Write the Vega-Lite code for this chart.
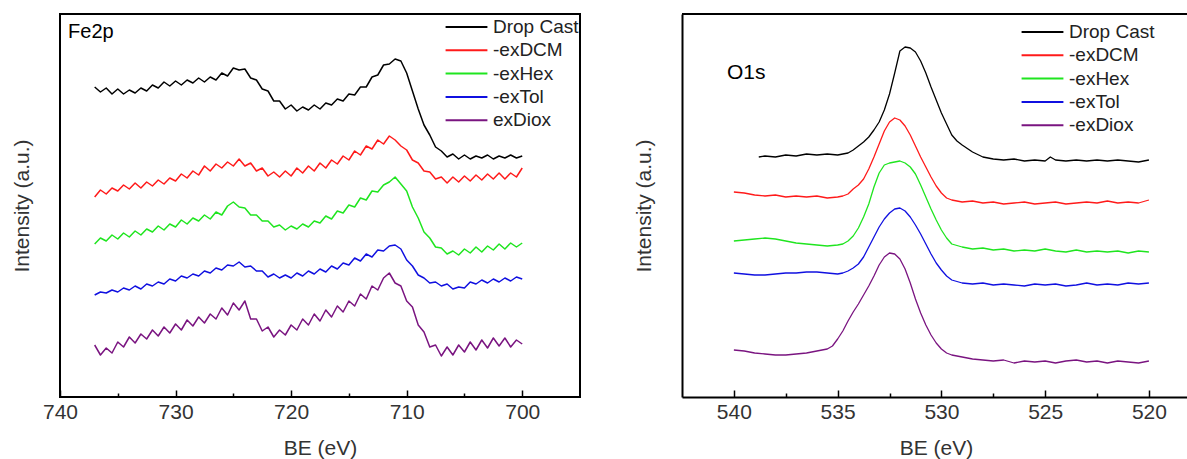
{
"$schema": "https://vega.github.io/schema/vega-lite/v6.json",
"background": "white",
"padding": {"left": 10, "top": 13, "right": 0, "bottom": 0},
"config": {
 "font": "Liberation Sans",
 "view": {"stroke": "black", "strokeWidth": 2},
 "axis": {"labelFont": "Liberation Sans", "titleFont": "Liberation Sans", "labelFontSize": 21, "titleFontSize": 21, "titleFontWeight": "normal", "labelColor": "#333", "titleColor": "#333", "grid": false},
 "legend": {"orient": "none", "title": null, "symbolType": "M-5,0H5", "symbolSize": 70, "symbolStrokeWidth": 2, "labelFontSize": 19, "labelFont": "Liberation Sans", "labelColor": "#222", "labelOffset": 17, "rowPadding": 3.3, "padding": 0, "labelLimit": 300}
},
"spacing": 52,
"resolve": {"scale": {"color": "independent", "x": "independent", "y": "independent"}, "legend": {"color": "independent"}},
"datasets": {
"fe": [
{"s":"Drop Cast","e":737,"i":310},{"s":"Drop Cast","e":736.5,"i":305},{"s":"Drop Cast","e":736,"i":309},{"s":"Drop Cast","e":735.5,"i":303},{"s":"Drop Cast","e":735,"i":308},{"s":"Drop Cast","e":734.5,"i":303},{"s":"Drop Cast","e":734,"i":307},{"s":"Drop Cast","e":733.5,"i":304},{"s":"Drop Cast","e":733,"i":309},{"s":"Drop Cast","e":732.5,"i":306},{"s":"Drop Cast","e":732,"i":312},{"s":"Drop Cast","e":731.5,"i":309},{"s":"Drop Cast","e":731,"i":315},{"s":"Drop Cast","e":730.5,"i":311},{"s":"Drop Cast","e":730,"i":316},{"s":"Drop Cast","e":729.5,"i":312},{"s":"Drop Cast","e":729,"i":317},{"s":"Drop Cast","e":728.5,"i":314},{"s":"Drop Cast","e":728,"i":319},{"s":"Drop Cast","e":727.5,"i":315},{"s":"Drop Cast","e":727,"i":320},{"s":"Drop Cast","e":726.5,"i":317},{"s":"Drop Cast","e":726,"i":324},{"s":"Drop Cast","e":725.5,"i":321},{"s":"Drop Cast","e":725,"i":329},{"s":"Drop Cast","e":724.5,"i":327},{"s":"Drop Cast","e":724,"i":328},{"s":"Drop Cast","e":723.5,"i":319},{"s":"Drop Cast","e":723,"i":317},{"s":"Drop Cast","e":722.5,"i":308},{"s":"Drop Cast","e":722,"i":306},{"s":"Drop Cast","e":721.5,"i":296},{"s":"Drop Cast","e":721,"i":296},{"s":"Drop Cast","e":720.5,"i":288},{"s":"Drop Cast","e":720,"i":292},{"s":"Drop Cast","e":719.5,"i":286},{"s":"Drop Cast","e":719,"i":290},{"s":"Drop Cast","e":718.5,"i":287},{"s":"Drop Cast","e":718,"i":292},{"s":"Drop Cast","e":717.5,"i":288},{"s":"Drop Cast","e":717,"i":294},{"s":"Drop Cast","e":716.5,"i":292},{"s":"Drop Cast","e":716,"i":298},{"s":"Drop Cast","e":715.5,"i":296},{"s":"Drop Cast","e":715,"i":303},{"s":"Drop Cast","e":714.5,"i":302},{"s":"Drop Cast","e":714,"i":310},{"s":"Drop Cast","e":713.5,"i":310},{"s":"Drop Cast","e":713,"i":320},{"s":"Drop Cast","e":712.5,"i":322},{"s":"Drop Cast","e":712,"i":332},{"s":"Drop Cast","e":711.5,"i":333},{"s":"Drop Cast","e":711,"i":338},{"s":"Drop Cast","e":710.5,"i":336},{"s":"Drop Cast","e":710,"i":324},{"s":"Drop Cast","e":709.5,"i":306},{"s":"Drop Cast","e":709,"i":288},{"s":"Drop Cast","e":708.5,"i":272},{"s":"Drop Cast","e":708,"i":262},{"s":"Drop Cast","e":707.5,"i":250},{"s":"Drop Cast","e":707,"i":246},{"s":"Drop Cast","e":706.5,"i":240},{"s":"Drop Cast","e":706,"i":243},{"s":"Drop Cast","e":705.5,"i":238},{"s":"Drop Cast","e":705,"i":242},{"s":"Drop Cast","e":704.5,"i":238},{"s":"Drop Cast","e":704,"i":241},{"s":"Drop Cast","e":703.5,"i":239},{"s":"Drop Cast","e":703,"i":242},{"s":"Drop Cast","e":702.5,"i":238},{"s":"Drop Cast","e":702,"i":241},{"s":"Drop Cast","e":701.5,"i":239},{"s":"Drop Cast","e":701,"i":242},{"s":"Drop Cast","e":700.5,"i":239},{"s":"Drop Cast","e":700,"i":241},
{"s":"-exDCM","e":737,"i":200},{"s":"-exDCM","e":736.5,"i":207},{"s":"-exDCM","e":736,"i":203},{"s":"-exDCM","e":735.5,"i":209},{"s":"-exDCM","e":735,"i":206},{"s":"-exDCM","e":734.5,"i":212},{"s":"-exDCM","e":734,"i":208},{"s":"-exDCM","e":733.5,"i":214},{"s":"-exDCM","e":733,"i":209},{"s":"-exDCM","e":732.5,"i":215},{"s":"-exDCM","e":732,"i":211},{"s":"-exDCM","e":731.5,"i":217},{"s":"-exDCM","e":731,"i":213},{"s":"-exDCM","e":730.5,"i":219},{"s":"-exDCM","e":730,"i":216},{"s":"-exDCM","e":729.5,"i":223},{"s":"-exDCM","e":729,"i":219},{"s":"-exDCM","e":728.5,"i":226},{"s":"-exDCM","e":728,"i":222},{"s":"-exDCM","e":727.5,"i":231},{"s":"-exDCM","e":727,"i":226},{"s":"-exDCM","e":726.5,"i":233},{"s":"-exDCM","e":726,"i":229},{"s":"-exDCM","e":725.5,"i":235},{"s":"-exDCM","e":725,"i":231},{"s":"-exDCM","e":724.5,"i":238},{"s":"-exDCM","e":724,"i":231},{"s":"-exDCM","e":723.5,"i":234},{"s":"-exDCM","e":723,"i":226},{"s":"-exDCM","e":722.5,"i":229},{"s":"-exDCM","e":722,"i":221},{"s":"-exDCM","e":721.5,"i":225},{"s":"-exDCM","e":721,"i":220},{"s":"-exDCM","e":720.5,"i":226},{"s":"-exDCM","e":720,"i":221},{"s":"-exDCM","e":719.5,"i":229},{"s":"-exDCM","e":719,"i":224},{"s":"-exDCM","e":718.5,"i":231},{"s":"-exDCM","e":718,"i":226},{"s":"-exDCM","e":717.5,"i":234},{"s":"-exDCM","e":717,"i":229},{"s":"-exDCM","e":716.5,"i":237},{"s":"-exDCM","e":716,"i":233},{"s":"-exDCM","e":715.5,"i":241},{"s":"-exDCM","e":715,"i":237},{"s":"-exDCM","e":714.5,"i":246},{"s":"-exDCM","e":714,"i":242},{"s":"-exDCM","e":713.5,"i":251},{"s":"-exDCM","e":713,"i":248},{"s":"-exDCM","e":712.5,"i":257},{"s":"-exDCM","e":712,"i":253},{"s":"-exDCM","e":711.5,"i":261},{"s":"-exDCM","e":711,"i":257},{"s":"-exDCM","e":710.5,"i":251},{"s":"-exDCM","e":710,"i":247},{"s":"-exDCM","e":709.5,"i":237},{"s":"-exDCM","e":709,"i":234},{"s":"-exDCM","e":708.5,"i":226},{"s":"-exDCM","e":708,"i":225},{"s":"-exDCM","e":707.5,"i":218},{"s":"-exDCM","e":707,"i":220},{"s":"-exDCM","e":706.5,"i":214},{"s":"-exDCM","e":706,"i":220},{"s":"-exDCM","e":705.5,"i":215},{"s":"-exDCM","e":705,"i":221},{"s":"-exDCM","e":704.5,"i":216},{"s":"-exDCM","e":704,"i":222},{"s":"-exDCM","e":703.5,"i":217},{"s":"-exDCM","e":703,"i":223},{"s":"-exDCM","e":702.5,"i":218},{"s":"-exDCM","e":702,"i":224},{"s":"-exDCM","e":701.5,"i":218},{"s":"-exDCM","e":701,"i":224},{"s":"-exDCM","e":700.5,"i":220},{"s":"-exDCM","e":700,"i":229},
{"s":"-exHex","e":737,"i":153},{"s":"-exHex","e":736.5,"i":159},{"s":"-exHex","e":736,"i":156},{"s":"-exHex","e":735.5,"i":162},{"s":"-exHex","e":735,"i":158},{"s":"-exHex","e":734.5,"i":164},{"s":"-exHex","e":734,"i":160},{"s":"-exHex","e":733.5,"i":166},{"s":"-exHex","e":733,"i":162},{"s":"-exHex","e":732.5,"i":168},{"s":"-exHex","e":732,"i":165},{"s":"-exHex","e":731.5,"i":171},{"s":"-exHex","e":731,"i":167},{"s":"-exHex","e":730.5,"i":173},{"s":"-exHex","e":730,"i":170},{"s":"-exHex","e":729.5,"i":177},{"s":"-exHex","e":729,"i":173},{"s":"-exHex","e":728.5,"i":179},{"s":"-exHex","e":728,"i":176},{"s":"-exHex","e":727.5,"i":182},{"s":"-exHex","e":727,"i":178},{"s":"-exHex","e":726.5,"i":185},{"s":"-exHex","e":726,"i":182},{"s":"-exHex","e":725.5,"i":191},{"s":"-exHex","e":725,"i":195},{"s":"-exHex","e":724.5,"i":190},{"s":"-exHex","e":724,"i":189},{"s":"-exHex","e":723.5,"i":182},{"s":"-exHex","e":723,"i":182},{"s":"-exHex","e":722.5,"i":176},{"s":"-exHex","e":722,"i":176},{"s":"-exHex","e":721.5,"i":170},{"s":"-exHex","e":721,"i":172},{"s":"-exHex","e":720.5,"i":167},{"s":"-exHex","e":720,"i":171},{"s":"-exHex","e":719.5,"i":168},{"s":"-exHex","e":719,"i":173},{"s":"-exHex","e":718.5,"i":170},{"s":"-exHex","e":718,"i":176},{"s":"-exHex","e":717.5,"i":174},{"s":"-exHex","e":717,"i":181},{"s":"-exHex","e":716.5,"i":178},{"s":"-exHex","e":716,"i":186},{"s":"-exHex","e":715.5,"i":184},{"s":"-exHex","e":715,"i":192},{"s":"-exHex","e":714.5,"i":190},{"s":"-exHex","e":714,"i":199},{"s":"-exHex","e":713.5,"i":197},{"s":"-exHex","e":713,"i":206},{"s":"-exHex","e":712.5,"i":205},{"s":"-exHex","e":712,"i":212},{"s":"-exHex","e":711.5,"i":215},{"s":"-exHex","e":711,"i":220},{"s":"-exHex","e":710.5,"i":213},{"s":"-exHex","e":710,"i":206},{"s":"-exHex","e":709.5,"i":190},{"s":"-exHex","e":709,"i":179},{"s":"-exHex","e":708.5,"i":165},{"s":"-exHex","e":708,"i":159},{"s":"-exHex","e":707.5,"i":150},{"s":"-exHex","e":707,"i":149},{"s":"-exHex","e":706.5,"i":143},{"s":"-exHex","e":706,"i":146},{"s":"-exHex","e":705.5,"i":142},{"s":"-exHex","e":705,"i":148},{"s":"-exHex","e":704.5,"i":144},{"s":"-exHex","e":704,"i":150},{"s":"-exHex","e":703.5,"i":145},{"s":"-exHex","e":703,"i":151},{"s":"-exHex","e":702.5,"i":147},{"s":"-exHex","e":702,"i":153},{"s":"-exHex","e":701.5,"i":148},{"s":"-exHex","e":701,"i":154},{"s":"-exHex","e":700.5,"i":150},{"s":"-exHex","e":700,"i":154},
{"s":"-exTol","e":737,"i":102},{"s":"-exTol","e":736.5,"i":105},{"s":"-exTol","e":736,"i":104},{"s":"-exTol","e":735.5,"i":107},{"s":"-exTol","e":735,"i":105},{"s":"-exTol","e":734.5,"i":109},{"s":"-exTol","e":734,"i":107},{"s":"-exTol","e":733.5,"i":111},{"s":"-exTol","e":733,"i":108},{"s":"-exTol","e":732.5,"i":113},{"s":"-exTol","e":732,"i":111},{"s":"-exTol","e":731.5,"i":115},{"s":"-exTol","e":731,"i":113},{"s":"-exTol","e":730.5,"i":118},{"s":"-exTol","e":730,"i":116},{"s":"-exTol","e":729.5,"i":121},{"s":"-exTol","e":729,"i":119},{"s":"-exTol","e":728.5,"i":123},{"s":"-exTol","e":728,"i":121},{"s":"-exTol","e":727.5,"i":126},{"s":"-exTol","e":727,"i":124},{"s":"-exTol","e":726.5,"i":129},{"s":"-exTol","e":726,"i":127},{"s":"-exTol","e":725.5,"i":132},{"s":"-exTol","e":725,"i":131},{"s":"-exTol","e":724.5,"i":135},{"s":"-exTol","e":724,"i":130},{"s":"-exTol","e":723.5,"i":131},{"s":"-exTol","e":723,"i":126},{"s":"-exTol","e":722.5,"i":126},{"s":"-exTol","e":722,"i":120},{"s":"-exTol","e":721.5,"i":123},{"s":"-exTol","e":721,"i":119},{"s":"-exTol","e":720.5,"i":122},{"s":"-exTol","e":720,"i":119},{"s":"-exTol","e":719.5,"i":124},{"s":"-exTol","e":719,"i":121},{"s":"-exTol","e":718.5,"i":126},{"s":"-exTol","e":718,"i":123},{"s":"-exTol","e":717.5,"i":128},{"s":"-exTol","e":717,"i":125},{"s":"-exTol","e":716.5,"i":131},{"s":"-exTol","e":716,"i":128},{"s":"-exTol","e":715.5,"i":134},{"s":"-exTol","e":715,"i":132},{"s":"-exTol","e":714.5,"i":139},{"s":"-exTol","e":714,"i":136},{"s":"-exTol","e":713.5,"i":143},{"s":"-exTol","e":713,"i":140},{"s":"-exTol","e":712.5,"i":147},{"s":"-exTol","e":712,"i":146},{"s":"-exTol","e":711.5,"i":151},{"s":"-exTol","e":711,"i":152},{"s":"-exTol","e":710.5,"i":148},{"s":"-exTol","e":710,"i":137},{"s":"-exTol","e":709.5,"i":131},{"s":"-exTol","e":709,"i":122},{"s":"-exTol","e":708.5,"i":119},{"s":"-exTol","e":708,"i":114},{"s":"-exTol","e":707.5,"i":115},{"s":"-exTol","e":707,"i":111},{"s":"-exTol","e":706.5,"i":113},{"s":"-exTol","e":706,"i":108},{"s":"-exTol","e":705.5,"i":110},{"s":"-exTol","e":705,"i":109},{"s":"-exTol","e":704.5,"i":115},{"s":"-exTol","e":704,"i":113},{"s":"-exTol","e":703.5,"i":117},{"s":"-exTol","e":703,"i":114},{"s":"-exTol","e":702.5,"i":118},{"s":"-exTol","e":702,"i":115},{"s":"-exTol","e":701.5,"i":119},{"s":"-exTol","e":701,"i":116},{"s":"-exTol","e":700.5,"i":120},{"s":"-exTol","e":700,"i":118},
{"s":"exDiox","e":737,"i":52},{"s":"exDiox","e":736.5,"i":42},{"s":"exDiox","e":736,"i":49},{"s":"exDiox","e":735.5,"i":44},{"s":"exDiox","e":735,"i":55},{"s":"exDiox","e":734.5,"i":50},{"s":"exDiox","e":734,"i":60},{"s":"exDiox","e":733.5,"i":54},{"s":"exDiox","e":733,"i":63},{"s":"exDiox","e":732.5,"i":58},{"s":"exDiox","e":732,"i":67},{"s":"exDiox","e":731.5,"i":61},{"s":"exDiox","e":731,"i":70},{"s":"exDiox","e":730.5,"i":64},{"s":"exDiox","e":730,"i":73},{"s":"exDiox","e":729.5,"i":67},{"s":"exDiox","e":729,"i":77},{"s":"exDiox","e":728.5,"i":71},{"s":"exDiox","e":728,"i":80},{"s":"exDiox","e":727.5,"i":74},{"s":"exDiox","e":727,"i":83},{"s":"exDiox","e":726.5,"i":78},{"s":"exDiox","e":726,"i":89},{"s":"exDiox","e":725.5,"i":82},{"s":"exDiox","e":725,"i":94},{"s":"exDiox","e":724.5,"i":87},{"s":"exDiox","e":724,"i":96},{"s":"exDiox","e":723.5,"i":78},{"s":"exDiox","e":723,"i":78},{"s":"exDiox","e":722.5,"i":66},{"s":"exDiox","e":722,"i":70},{"s":"exDiox","e":721.5,"i":60},{"s":"exDiox","e":721,"i":67},{"s":"exDiox","e":720.5,"i":62},{"s":"exDiox","e":720,"i":72},{"s":"exDiox","e":719.5,"i":67},{"s":"exDiox","e":719,"i":78},{"s":"exDiox","e":718.5,"i":72},{"s":"exDiox","e":718,"i":83},{"s":"exDiox","e":717.5,"i":76},{"s":"exDiox","e":717,"i":87},{"s":"exDiox","e":716.5,"i":80},{"s":"exDiox","e":716,"i":91},{"s":"exDiox","e":715.5,"i":85},{"s":"exDiox","e":715,"i":96},{"s":"exDiox","e":714.5,"i":91},{"s":"exDiox","e":714,"i":103},{"s":"exDiox","e":713.5,"i":98},{"s":"exDiox","e":713,"i":111},{"s":"exDiox","e":712.5,"i":107},{"s":"exDiox","e":712,"i":119},{"s":"exDiox","e":711.5,"i":124},{"s":"exDiox","e":711,"i":114},{"s":"exDiox","e":710.5,"i":111},{"s":"exDiox","e":710,"i":96},{"s":"exDiox","e":709.5,"i":90},{"s":"exDiox","e":709,"i":72},{"s":"exDiox","e":708.5,"i":65},{"s":"exDiox","e":708,"i":50},{"s":"exDiox","e":707.5,"i":52},{"s":"exDiox","e":707,"i":41},{"s":"exDiox","e":706.5,"i":50},{"s":"exDiox","e":706,"i":42},{"s":"exDiox","e":705.5,"i":52},{"s":"exDiox","e":705,"i":45},{"s":"exDiox","e":704.5,"i":55},{"s":"exDiox","e":704,"i":47},{"s":"exDiox","e":703.5,"i":57},{"s":"exDiox","e":703,"i":49},{"s":"exDiox","e":702.5,"i":59},{"s":"exDiox","e":702,"i":51},{"s":"exDiox","e":701.5,"i":59},{"s":"exDiox","e":701,"i":50},{"s":"exDiox","e":700.5,"i":57},{"s":"exDiox","e":700,"i":53}
],
"o": [
{"s":"Drop Cast","e":538.8,"i":240},{"s":"Drop Cast","e":538.5,"i":241},{"s":"Drop Cast","e":538,"i":240},{"s":"Drop Cast","e":537.5,"i":242},{"s":"Drop Cast","e":537,"i":241},{"s":"Drop Cast","e":536.5,"i":243},{"s":"Drop Cast","e":536,"i":242},{"s":"Drop Cast","e":535.5,"i":243},{"s":"Drop Cast","e":535,"i":242},{"s":"Drop Cast","e":534.5,"i":244},{"s":"Drop Cast","e":534.25,"i":247},{"s":"Drop Cast","e":534,"i":251},{"s":"Drop Cast","e":533.75,"i":255},{"s":"Drop Cast","e":533.5,"i":260},{"s":"Drop Cast","e":533.25,"i":267},{"s":"Drop Cast","e":533,"i":275},{"s":"Drop Cast","e":532.75,"i":287},{"s":"Drop Cast","e":532.5,"i":303},{"s":"Drop Cast","e":532.25,"i":324},{"s":"Drop Cast","e":532,"i":346},{"s":"Drop Cast","e":531.75,"i":350},{"s":"Drop Cast","e":531.5,"i":349},{"s":"Drop Cast","e":531.25,"i":345},{"s":"Drop Cast","e":531,"i":336},{"s":"Drop Cast","e":530.75,"i":324},{"s":"Drop Cast","e":530.5,"i":310},{"s":"Drop Cast","e":530.25,"i":297},{"s":"Drop Cast","e":530,"i":284},{"s":"Drop Cast","e":529.75,"i":273},{"s":"Drop Cast","e":529.5,"i":262},{"s":"Drop Cast","e":529.25,"i":256},{"s":"Drop Cast","e":529,"i":252},{"s":"Drop Cast","e":528.5,"i":245},{"s":"Drop Cast","e":528,"i":240},{"s":"Drop Cast","e":527.5,"i":238},{"s":"Drop Cast","e":527,"i":237},{"s":"Drop Cast","e":526.5,"i":238},{"s":"Drop Cast","e":526,"i":236},{"s":"Drop Cast","e":525.5,"i":237},{"s":"Drop Cast","e":525,"i":236},{"s":"Drop Cast","e":524.75,"i":240},{"s":"Drop Cast","e":524.5,"i":237},{"s":"Drop Cast","e":524,"i":236},{"s":"Drop Cast","e":523.5,"i":237},{"s":"Drop Cast","e":523,"i":236},{"s":"Drop Cast","e":522.5,"i":237},{"s":"Drop Cast","e":522,"i":236},{"s":"Drop Cast","e":521.5,"i":237},{"s":"Drop Cast","e":521,"i":236},{"s":"Drop Cast","e":520.5,"i":235},{"s":"Drop Cast","e":520,"i":237},
{"s":"-exDCM","e":540,"i":205},{"s":"-exDCM","e":539.5,"i":204},{"s":"-exDCM","e":539,"i":202},{"s":"-exDCM","e":538.5,"i":201},{"s":"-exDCM","e":538,"i":202},{"s":"-exDCM","e":537.5,"i":200},{"s":"-exDCM","e":537,"i":201},{"s":"-exDCM","e":536.5,"i":200},{"s":"-exDCM","e":536,"i":201},{"s":"-exDCM","e":535.5,"i":199},{"s":"-exDCM","e":535,"i":200},{"s":"-exDCM","e":534.75,"i":201},{"s":"-exDCM","e":534.5,"i":203},{"s":"-exDCM","e":534.25,"i":208},{"s":"-exDCM","e":534,"i":212},{"s":"-exDCM","e":533.75,"i":218},{"s":"-exDCM","e":533.5,"i":228},{"s":"-exDCM","e":533.25,"i":240},{"s":"-exDCM","e":533,"i":253},{"s":"-exDCM","e":532.75,"i":266},{"s":"-exDCM","e":532.5,"i":275},{"s":"-exDCM","e":532.25,"i":279},{"s":"-exDCM","e":532,"i":277},{"s":"-exDCM","e":531.75,"i":271},{"s":"-exDCM","e":531.5,"i":262},{"s":"-exDCM","e":531.25,"i":251},{"s":"-exDCM","e":531,"i":240},{"s":"-exDCM","e":530.75,"i":230},{"s":"-exDCM","e":530.5,"i":220},{"s":"-exDCM","e":530.25,"i":211},{"s":"-exDCM","e":530,"i":204},{"s":"-exDCM","e":529.75,"i":199},{"s":"-exDCM","e":529.5,"i":197},{"s":"-exDCM","e":529,"i":195},{"s":"-exDCM","e":528.5,"i":196},{"s":"-exDCM","e":528,"i":194},{"s":"-exDCM","e":527.5,"i":195},{"s":"-exDCM","e":527,"i":193},{"s":"-exDCM","e":526.5,"i":194},{"s":"-exDCM","e":526,"i":195},{"s":"-exDCM","e":525.5,"i":193},{"s":"-exDCM","e":525,"i":194},{"s":"-exDCM","e":524.5,"i":195},{"s":"-exDCM","e":524,"i":193},{"s":"-exDCM","e":523.5,"i":194},{"s":"-exDCM","e":523,"i":195},{"s":"-exDCM","e":522.5,"i":194},{"s":"-exDCM","e":522,"i":196},{"s":"-exDCM","e":521.5,"i":194},{"s":"-exDCM","e":521,"i":195},{"s":"-exDCM","e":520.5,"i":194},{"s":"-exDCM","e":520,"i":197},
{"s":"-exHex","e":540,"i":156},{"s":"-exHex","e":539.5,"i":157},{"s":"-exHex","e":539,"i":158},{"s":"-exHex","e":538.5,"i":159},{"s":"-exHex","e":538,"i":158},{"s":"-exHex","e":537.5,"i":156},{"s":"-exHex","e":537,"i":154},{"s":"-exHex","e":536.5,"i":153},{"s":"-exHex","e":536,"i":152},{"s":"-exHex","e":535.5,"i":151},{"s":"-exHex","e":535,"i":152},{"s":"-exHex","e":534.75,"i":153},{"s":"-exHex","e":534.5,"i":156},{"s":"-exHex","e":534.25,"i":161},{"s":"-exHex","e":534,"i":169},{"s":"-exHex","e":533.75,"i":180},{"s":"-exHex","e":533.5,"i":193},{"s":"-exHex","e":533.25,"i":210},{"s":"-exHex","e":533,"i":224},{"s":"-exHex","e":532.75,"i":232},{"s":"-exHex","e":532.5,"i":234},{"s":"-exHex","e":532.25,"i":235},{"s":"-exHex","e":532,"i":236},{"s":"-exHex","e":531.75,"i":234},{"s":"-exHex","e":531.5,"i":230},{"s":"-exHex","e":531.25,"i":223},{"s":"-exHex","e":531,"i":212},{"s":"-exHex","e":530.75,"i":200},{"s":"-exHex","e":530.5,"i":188},{"s":"-exHex","e":530.25,"i":177},{"s":"-exHex","e":530,"i":167},{"s":"-exHex","e":529.75,"i":159},{"s":"-exHex","e":529.5,"i":153},{"s":"-exHex","e":529,"i":150},{"s":"-exHex","e":528.5,"i":148},{"s":"-exHex","e":528,"i":149},{"s":"-exHex","e":527.5,"i":147},{"s":"-exHex","e":527,"i":148},{"s":"-exHex","e":526.5,"i":146},{"s":"-exHex","e":526,"i":147},{"s":"-exHex","e":525.5,"i":146},{"s":"-exHex","e":525,"i":148},{"s":"-exHex","e":524.5,"i":146},{"s":"-exHex","e":524,"i":145},{"s":"-exHex","e":523.5,"i":147},{"s":"-exHex","e":523,"i":145},{"s":"-exHex","e":522.5,"i":146},{"s":"-exHex","e":522,"i":145},{"s":"-exHex","e":521.5,"i":146},{"s":"-exHex","e":521,"i":144},{"s":"-exHex","e":520.5,"i":146},{"s":"-exHex","e":520,"i":145},
{"s":"-exTol","e":540,"i":124},{"s":"-exTol","e":539.5,"i":123},{"s":"-exTol","e":539,"i":122},{"s":"-exTol","e":538.5,"i":122},{"s":"-exTol","e":538,"i":123},{"s":"-exTol","e":537.5,"i":124},{"s":"-exTol","e":537,"i":124},{"s":"-exTol","e":536.5,"i":125},{"s":"-exTol","e":536,"i":125},{"s":"-exTol","e":535.5,"i":124},{"s":"-exTol","e":535,"i":123},{"s":"-exTol","e":534.75,"i":124},{"s":"-exTol","e":534.5,"i":126},{"s":"-exTol","e":534.25,"i":129},{"s":"-exTol","e":534,"i":133},{"s":"-exTol","e":533.75,"i":140},{"s":"-exTol","e":533.5,"i":150},{"s":"-exTol","e":533.25,"i":160},{"s":"-exTol","e":533,"i":170},{"s":"-exTol","e":532.75,"i":178},{"s":"-exTol","e":532.5,"i":184},{"s":"-exTol","e":532.25,"i":188},{"s":"-exTol","e":532,"i":189},{"s":"-exTol","e":531.75,"i":186},{"s":"-exTol","e":531.5,"i":180},{"s":"-exTol","e":531.25,"i":172},{"s":"-exTol","e":531,"i":163},{"s":"-exTol","e":530.75,"i":153},{"s":"-exTol","e":530.5,"i":143},{"s":"-exTol","e":530.25,"i":134},{"s":"-exTol","e":530,"i":127},{"s":"-exTol","e":529.75,"i":121},{"s":"-exTol","e":529.5,"i":117},{"s":"-exTol","e":529,"i":114},{"s":"-exTol","e":528.5,"i":113},{"s":"-exTol","e":528,"i":114},{"s":"-exTol","e":527.5,"i":112},{"s":"-exTol","e":527,"i":113},{"s":"-exTol","e":526.5,"i":112},{"s":"-exTol","e":526,"i":111},{"s":"-exTol","e":525.5,"i":113},{"s":"-exTol","e":525,"i":112},{"s":"-exTol","e":524.5,"i":113},{"s":"-exTol","e":524,"i":111},{"s":"-exTol","e":523.5,"i":112},{"s":"-exTol","e":523,"i":114},{"s":"-exTol","e":522.5,"i":112},{"s":"-exTol","e":522,"i":113},{"s":"-exTol","e":521.5,"i":112},{"s":"-exTol","e":521,"i":114},{"s":"-exTol","e":520.5,"i":113},{"s":"-exTol","e":520,"i":114},
{"s":"-exDiox","e":540,"i":47},{"s":"-exDiox","e":539.5,"i":46},{"s":"-exDiox","e":539,"i":44},{"s":"-exDiox","e":538.5,"i":43},{"s":"-exDiox","e":538,"i":42},{"s":"-exDiox","e":537.5,"i":42},{"s":"-exDiox","e":537,"i":43},{"s":"-exDiox","e":536.5,"i":44},{"s":"-exDiox","e":536,"i":46},{"s":"-exDiox","e":535.5,"i":48},{"s":"-exDiox","e":535.25,"i":51},{"s":"-exDiox","e":535,"i":58},{"s":"-exDiox","e":534.75,"i":66},{"s":"-exDiox","e":534.5,"i":76},{"s":"-exDiox","e":534.25,"i":85},{"s":"-exDiox","e":534,"i":93},{"s":"-exDiox","e":533.75,"i":102},{"s":"-exDiox","e":533.5,"i":111},{"s":"-exDiox","e":533.25,"i":121},{"s":"-exDiox","e":533,"i":132},{"s":"-exDiox","e":532.75,"i":140},{"s":"-exDiox","e":532.5,"i":144},{"s":"-exDiox","e":532.25,"i":143},{"s":"-exDiox","e":532,"i":138},{"s":"-exDiox","e":531.75,"i":128},{"s":"-exDiox","e":531.5,"i":114},{"s":"-exDiox","e":531.25,"i":98},{"s":"-exDiox","e":531,"i":84},{"s":"-exDiox","e":530.75,"i":72},{"s":"-exDiox","e":530.5,"i":62},{"s":"-exDiox","e":530.25,"i":54},{"s":"-exDiox","e":530,"i":48},{"s":"-exDiox","e":529.75,"i":44},{"s":"-exDiox","e":529.5,"i":42},{"s":"-exDiox","e":529,"i":40},{"s":"-exDiox","e":528.5,"i":38},{"s":"-exDiox","e":528,"i":37},{"s":"-exDiox","e":527.5,"i":36},{"s":"-exDiox","e":527,"i":37},{"s":"-exDiox","e":526.5,"i":34},{"s":"-exDiox","e":526,"i":36},{"s":"-exDiox","e":525.5,"i":35},{"s":"-exDiox","e":525,"i":36},{"s":"-exDiox","e":524.5,"i":34},{"s":"-exDiox","e":524,"i":36},{"s":"-exDiox","e":523.5,"i":37},{"s":"-exDiox","e":523,"i":35},{"s":"-exDiox","e":522.5,"i":36},{"s":"-exDiox","e":522,"i":34},{"s":"-exDiox","e":521.5,"i":36},{"s":"-exDiox","e":521,"i":35},{"s":"-exDiox","e":520.5,"i":34},{"s":"-exDiox","e":520,"i":36}
]
},
"hconcat": [
{
 "width": 520, "height": 383,
 "layer": [
  {"data": {"name": "fe"},
   "mark": {"type": "line", "strokeWidth": 1.5, "strokeJoin": "round"},
   "encoding": {
    "x": {"field": "e", "type": "quantitative", "title": "BE (eV)",
     "scale": {"domain": [695, 740], "reverse": true, "nice": false, "zero": false},
     "axis": {"values": [700,705,710,715,720,725,730,735,740], "labelExpr": "datum.value % 10 === 0 ? format(datum.value, 'd') : ''", "tickSize": {"condition": {"test": "datum.value % 10 === 0", "value": -7}, "value": -4}, "tickColor": "black", "tickWidth": 1.5, "domain": false, "labelPadding": 11, "titlePadding": 12, "labelFlush": false, "labelOverlap": false}},
    "y": {"field": "i", "type": "quantitative",
     "scale": {"domain": [0, 383], "nice": false, "zero": false},
     "axis": {"title": "Intensity (a.u.)", "labels": false, "ticks": false, "domain": false, "titlePadding": 28}},
    "color": {"field": "s", "type": "nominal",
     "scale": {"domain": ["Drop Cast", "-exDCM", "-exHex", "-exTol", "exDiox"], "range": ["#000000", "#ff1a1a", "#1fe51f", "#1010e0", "#7a1480"]},
     "legend": {"legendX": 397, "legendY": 3.5}}
   }},
  {"data": {"values": [{"e": 739.3, "i": 359, "t": "Fe2p"}]},
   "mark": {"type": "text", "align": "left", "baseline": "alphabetic", "fontSize": 20, "font": "Liberation Sans", "color": "black"},
   "encoding": {"x": {"field": "e", "type": "quantitative"}, "y": {"field": "i", "type": "quantitative"}, "text": {"field": "t"}}}
 ]
},
{
 "width": 508, "height": 383,
 "view": {"stroke": null},
 "layer": [
  {"data": {"name": "o"},
   "mark": {"type": "line", "strokeWidth": 1.3, "strokeJoin": "round"},
   "encoding": {
    "x": {"field": "e", "type": "quantitative", "title": "BE (eV)",
     "scale": {"domain": [518.02, 542.5], "reverse": true, "nice": false, "zero": false},
     "axis": {"values": [520,522.5,525,527.5,530,532.5,535,537.5,540], "labelExpr": "datum.value % 5 === 0 ? format(datum.value, 'd') : ''", "tickSize": {"condition": {"test": "datum.value % 5 === 0", "value": -7}, "value": -4}, "tickColor": "black", "tickWidth": 1.5, "domain": true, "domainColor": "black", "domainWidth": 2, "labelPadding": 11, "titlePadding": 12, "labelFlush": false, "labelOverlap": false}},
    "y": {"field": "i", "type": "quantitative",
     "scale": {"domain": [0, 383], "nice": false, "zero": false},
     "axis": {"title": "Intensity (a.u.)", "labels": false, "ticks": false, "domain": true, "domainColor": "black", "domainWidth": 2, "titlePadding": 28}},
    "color": {"field": "s", "type": "nominal",
     "scale": {"domain": ["Drop Cast", "-exDCM", "-exHex", "-exTol", "-exDiox"], "range": ["#000000", "#ff1a1a", "#1fe51f", "#1010e0", "#7a1480"]},
     "legend": {"legendX": 351, "legendY": 8.5}}
   }},
  {"data": {"values": [{"top": 383}]},
   "mark": {"type": "rule", "strokeWidth": 2, "color": "black"},
   "encoding": {"y": {"field": "top", "type": "quantitative"}}},
  {"data": {"values": [{"e": 540.33, "i": 318, "t": "O1s"}]},
   "mark": {"type": "text", "align": "left", "baseline": "alphabetic", "fontSize": 21, "font": "Liberation Sans", "color": "black"},
   "encoding": {"x": {"field": "e", "type": "quantitative"}, "y": {"field": "i", "type": "quantitative"}, "text": {"field": "t"}}}
 ]
}
]
}
